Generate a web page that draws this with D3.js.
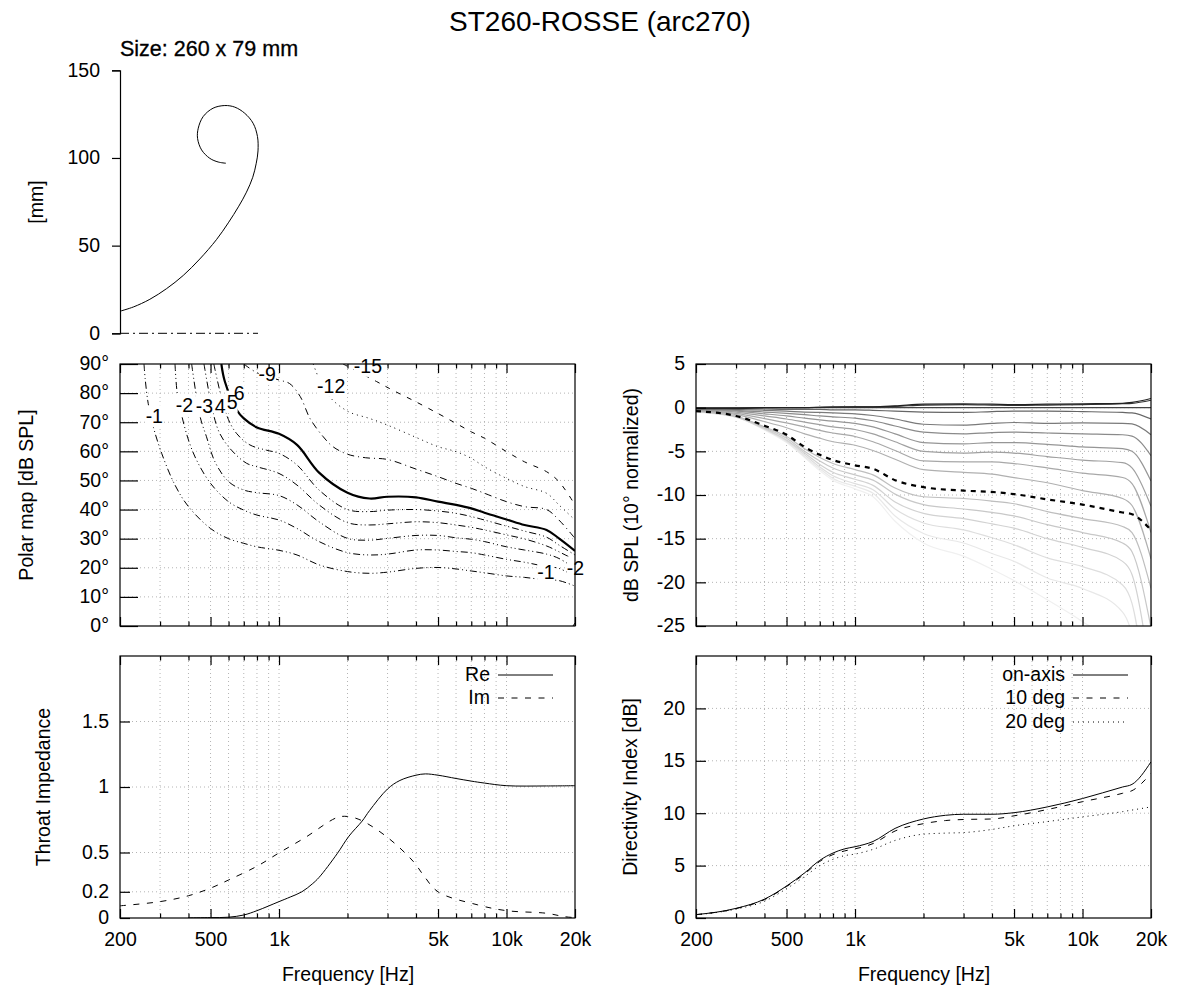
<!DOCTYPE html>
<html><head><meta charset="utf-8">
<script src="https://cdnjs.cloudflare.com/ajax/libs/d3/7.8.5/d3.min.js"></script>
<style>
html,body{margin:0;padding:0;background:#fff}
text{font-family:"Liberation Sans",Arial,sans-serif;fill:#000}
</style></head><body><svg id="c" width="1200" height="1000"></svg>
<script>
// ---- data ----
const profileX=[0,7.6,17.1,26.7,36.2,45.7,55.2,62,68,72.4,76,78,79,78.7,76.2,71.4,65.7,60,53.3,47.6,44.8,44.4,46.7,51.4,56.2,60.6];
const profileY=[12.6,15,19.4,25.5,33,42.4,53.4,63,72.5,80.5,89,97,104,112.2,119.8,125.5,129,129.9,128.4,123.6,117,111.2,104.6,99.8,97.7,97];
const majorFreqs=[200,500,1000,5000,10000,20000];
const minorFreqs=[300,400,600,700,800,900,2000,3000,4000,6000,7000,8000,9000];
const freqLabels={200:"200",500:"500",1000:"1k",5000:"5k",10000:"10k",20000:"20k"};

const contourM1=[[255,90],[258,85],[266,76.5],[280,68.5],[305,59.3],[349,48.4],[400,41],[500,33.5],[600,30],[700,28.4],[800,27.2],[1000,26],[1200,24.4],[1500,21],[2000,18.7],[2500,18.1],[3000,18.5],[4000,19.8],[5000,20.1],[6000,19.6],[7000,18.9],[8000,18.3],[10000,17.2],[12000,16.7],[15000,15.8],[17000,15.6],[20000,13.7]];
const contourM2=[[349,90],[357,79.9],[373,72.5],[400,63.9],[434,57],[500,49],[600,42.7],[700,39.8],[800,38.1],[1000,36.4],[1200,33.5],[1500,29],[2000,25.2],[2500,24.4],[3000,24.7],[4000,26.1],[5000,26.1],[6000,25.6],[7000,25.2],[8000,24.4],[10000,22.9],[12000,21.9],[15000,20.4],[17000,19.8],[20000,16.9]];
const contourM3=[[413,90],[450,71.9],[480,65],[523,56.4],[600,49.6],[700,46.7],[800,45.8],[1000,44.8],[1200,41.6],[1500,35.8],[2000,30.1],[2500,29.5],[3000,30.1],[4000,31.1],[5000,31.1],[6000,30.3],[7000,29.8],[8000,29],[10000,27.2],[12000,26.1],[15000,24.7],[17000,23.2],[20000,19.8]];
const contourM4=[[468,90],[514,73],[550,66],[618,60.4],[720,55.9],[800,54.7],[1000,52.4],[1200,48.4],[1500,41.6],[2000,35.5],[2500,34.7],[3000,35.1],[4000,35.8],[5000,35.5],[6000,34.7],[7000,33.9],[8000,33],[10000,31.3],[12000,29.9],[15000,27.5],[17000,25.5],[20000,22.7]];
const contourM5=[[517,90],[588,72.5],[650,66.2],[745,62.2],[880,60.4],[1000,59.3],[1200,55.3],[1500,46.7],[2000,40],[2500,39.3],[3000,39.8],[4000,40],[5000,39.5],[6000,38.7],[7000,37.6],[8000,36.4],[10000,34.3],[12000,32.6],[15000,30.5],[17000,27.8],[20000,24.4]];
const contourM6=[[558,90],[578,84],[652,74.2],[700,71.3],[800,68.2],[1000,66],[1200,62.2],[1500,52.7],[2000,45.8],[2500,43.8],[3000,44.4],[4000,44.2],[5000,42.7],[6000,41.6],[7000,40.4],[8000,38.9],[10000,36.6],[12000,34.7],[15000,33],[17000,30.1],[20000,25.8]];
const contourM9=[[700,90],[800,87],[1000,84.5],[1112,83.3],[1240,78.8],[1368,71.3],[1565,65],[1726,61.6],[2000,59],[2400,57.8],[3000,57.2],[4000,53.9],[5000,51.3],[6000,49],[7000,47.3],[8000,45.6],[10000,42.7],[12000,41],[15000,40],[17000,36.4],[20000,30.1]];
const contourM12=[[1414,90],[1621,79.9],[2000,73.8],[2500,71.3],[3000,69],[4000,64.8],[5000,61.6],[6000,59.9],[7000,57.6],[8000,54.7],[10000,50.7],[12000,47.9],[15000,45.6],[17000,41.6],[20000,36.4]];
const contourM15=[[1912,90],[2680,84],[3160,81],[4000,77],[5000,73],[6000,69.6],[7000,66.7],[8000,64.5],[10000,59.9],[12000,56.4],[15000,53],[17000,49.6],[20000,41.6]];
const contourCorner=[[19600,0],[20000,1]];
const contourLabels=["-1","-2","-3","4","5","6","-9","-12","-15","-1","-2"];
const contourLabelFreq=[283,384,470,551,622,668,888,1695,2460,14900,20100];
const contourLabelDeg=[72,76,75.5,75.5,77,80,86.6,82.5,89.3,18.5,20];

const splFreqs=[200,300,400,500,600,700,800,1000,1200,1500,2000,3000,4000,5000,7000,10000,15000,16500,20000];
const spl0 =[-0.1,-0.1,0,0,0,0.05,0.1,0.1,0.1,0.2,0.4,0.45,0.4,0.35,0.4,0.45,0.5,0.6,1.05];
const spl5 =[-0.1,-0.05,0,0,0,0.03,0.05,0.1,0.1,0.15,0.3,0.35,0.3,0.25,0.3,0.35,0.45,0.5,0.85];
const spl10=[0,0,0,0,0,0,0,0,0,0,0,0,0,0,0,0,0,0,0];
const spl15=[-0.05,-0.1,-0.15,-0.2,-0.2,-0.2,-0.25,-0.25,-0.3,-0.4,-0.5,-0.55,-0.45,-0.4,-0.4,-0.45,-0.55,-0.6,-1.3];
const spl20=[-0.1,-0.2,-0.3,-0.4,-0.5,-0.55,-0.6,-0.7,-0.9,-1.3,-1.9,-2,-1.8,-1.7,-1.8,-1.75,-1.8,-1.85,-3.1];
const spl25=[-0.15,-0.3,-0.5,-0.65,-0.8,-0.95,-1.05,-1.2,-1.5,-2.1,-2.8,-3,-2.85,-2.8,-2.9,-3,-3.1,-3.25,-5.5];
const spl30=[-0.2,-0.4,-0.7,-0.95,-1.2,-1.4,-1.55,-1.8,-2.2,-3,-4,-4.15,-4,-4,-4.2,-4.5,-4.7,-5,-8.4];
const spl35=[-0.25,-0.5,-0.95,-1.3,-1.65,-1.95,-2.2,-2.5,-3,-3.9,-5,-5.2,-5.1,-5.2,-5.6,-6,-6.3,-6.9,-11.3];
const spl40=[-0.3,-0.65,-1.25,-1.75,-2.2,-2.6,-2.9,-3.3,-3.9,-4.9,-6.1,-6.2,-6.2,-6.4,-6.9,-7.5,-8,-8.7,-14.3];
const spl45=[-0.35,-0.8,-1.6,-2.3,-3,-3.5,-3.9,-4.3,-4.9,-5.9,-7.1,-7.4,-7.6,-8,-8.6,-9.5,-10.4,-11.2,-17.3];
const spl50=[-0.4,-0.95,-2.06,-3.1,-4.5,-5.4,-6,-6.6,-7,-8.3,-9.1,-9.5,-9.65,-9.9,-10.5,-11.1,-12,-12.2,-14];
const spl55=[-0.4,-1,-2.2,-3.3,-4.7,-5.7,-6.4,-7.1,-7.7,-9.2,-10.2,-10.4,-10.7,-11,-11.9,-12.7,-13.6,-14.3,-20.7];
const spl60=[-0.4,-1,-2.3,-3.5,-5,-6.1,-6.9,-7.7,-8.3,-9.9,-11.1,-11.6,-12,-12.4,-13.4,-14.3,-15.5,-16.5,-25.2];
const spl65=[-0.45,-1.05,-2.4,-3.7,-5.2,-6.5,-7.4,-8.2,-8.9,-10.8,-12.1,-12.7,-13.3,-13.8,-15,-16,-17.6,-19.1,-31];
const spl70=[-0.45,-1.05,-2.45,-3.8,-5.4,-6.8,-7.8,-8.7,-9.4,-11.6,-13.2,-14,-14.9,-15.7,-17.2,-18.2,-20.3,-22.4,-37];
const spl75=[-0.45,-1.1,-2.5,-3.9,-5.6,-7,-8.1,-9,-9.8,-12.4,-14.4,-15.5,-16.7,-17.6,-19.5,-20.7,-23.4,-26,-42];
const spl80=[-0.5,-1.1,-2.55,-4,-5.7,-7.2,-8.3,-9.3,-10.2,-13,-15.5,-17,-18.5,-19.8,-22,-24.5,-28,-31,-45];

const reFreqs=[400,500,600,700,800,1000,1120,1260,1400,1500,1800,2030,2320,2500,3000,3400,4000,4400,5000,6000,7000,8000,10000,15000,20000];
const zRe=[0.001,0.003,0.006,0.023,0.056,0.125,0.16,0.2,0.26,0.31,0.49,0.625,0.74,0.82,0.985,1.05,1.09,1.1,1.09,1.065,1.045,1.03,1.01,1.008,1.01];
const imFreqs=[200,300,400,500,600,800,1000,1300,1800,2000,2300,3000,3900,4300,5000,7480,10000,15000,18000,20000];
const zIm=[0.093,0.125,0.17,0.228,0.29,0.395,0.497,0.613,0.767,0.775,0.745,0.615,0.43,0.33,0.2,0.1,0.056,0.036,0.01,0.003];

const diFreqs=[200,300,400,500,600,700,800,900,1000,1200,1500,2000,2500,3000,4000,5000,7000,10000,15000,16500,20000];
const diOn=[0.32,0.92,1.8,3.05,4.3,5.5,6.2,6.6,6.8,7.3,8.55,9.45,9.8,9.9,9.9,10.05,10.6,11.4,12.5,12.75,14.9];
const di10=[0.32,0.9,1.75,3,4.2,5.4,6.05,6.4,6.6,7.1,8.3,9,9.3,9.4,9.45,9.75,10.35,11.1,11.9,12.15,13.8];
const di20=[0.3,0.85,1.6,2.8,3.95,5,5.6,5.95,6.1,6.55,7.4,8,8.1,8.15,8.45,8.8,9.2,9.65,10.15,10.3,10.6];

const mmTicks=[0,50,100,150];
const deg=[0,10,20,30,40,50,60,70,80,90];
const splTicks=[5,0,-5,-10,-15,-20,-25];
const zTicks=[0,0.2,0.5,1,1.5];
const diTicks=[0,5,10,15,20];

// ---- layout ----
const svg=d3.select("#c");
const TF=19.5, LF=19.5;
const DASH="6,7.5", DOT="1,4";
const X1=[120,575],X2=[696,1151],Y2=[626,364],Y3=[918,656];
const fx=r=>d3.scaleLog().domain([200,20000]).range(r);
const allF=majorFreqs.concat(minorFreqs);
let clipN=0;
function panel(xr,yr,yDom,ticks,fmt,opt){
  const x=fx(xr), y=d3.scaleLinear().domain(yDom).range(yr);
  const g=svg.append("g");
  const id="clip"+(clipN++);
  svg.append("clipPath").attr("id",id).append("rect").attr("x",xr[0]).attr("y",yr[1]).attr("width",xr[1]-xr[0]).attr("height",yr[0]-yr[1]);
  g.selectAll(".gx").data(allF.filter(f=>f>200&&f<20000)).join("line").attr("x1",d=>x(d)).attr("x2",d=>x(d)).attr("y1",yr[0]).attr("y2",yr[1])
    .attr("stroke","#b4b4b4").attr("stroke-dasharray","1,3");
  g.selectAll(".gy").data(ticks.filter(t=>t!==yDom[0]&&t!==yDom[1])).join("line").attr("y1",d=>y(d)).attr("y2",d=>y(d)).attr("x1",xr[0]).attr("x2",xr[1])
    .attr("stroke","#b4b4b4").attr("stroke-dasharray","1,3");
  const marks=g.append("g").attr("clip-path","url(#"+id+")");
  const over=svg.append("g");
  const gAx=svg.append("g");
  const ax=(gen,tx,ty)=>{const a=gAx.append("g").attr("transform",`translate(${tx},${ty})`).call(gen);
     a.selectAll("text").attr("font-size",TF).attr("font-family","Liberation Sans").attr("fill","#000");
     a.selectAll("line").attr("stroke","#000").attr("stroke-width",1.2);a.select(".domain").attr("stroke","none");return a;};
  ax(d3.axisLeft(y).tickValues(ticks).tickFormat(fmt).tickSize(-opt.yTick).tickPadding(11),xr[0],0).selectAll("text").attr("dy","0.3em");
  const lab=opt.labels?(d=>freqLabels[d]):(()=>"");
  ax(d3.axisBottom(x).tickValues(majorFreqs).tickFormat(lab).tickSize(-9).tickPadding(14),0,yr[0]);
  ax(d3.axisBottom(x).tickValues(minorFreqs).tickFormat(()=>"").tickSize(-4.5),0,yr[0]);
  ax(d3.axisTop(x).tickValues(majorFreqs).tickFormat(()=>"").tickSize(-9),0,yr[1]);
  ax(d3.axisTop(x).tickValues(minorFreqs).tickFormat(()=>"").tickSize(-4.5),0,yr[1]);
  gAx.append("rect").attr("x",xr[0]).attr("y",yr[1]).attr("width",xr[1]-xr[0]).attr("height",yr[0]-yr[1]).attr("fill","none").attr("stroke","#000").attr("stroke-width",1.2);
  return {x,y,marks,over};
}
const SMOOTH=d3.curveCatmullRom.alpha(0.5);
const lineOf=(x,y,curve)=>d3.line().x(d=>x(d[0])).y(d=>y(d[1])).curve(curve||SMOOTH);
const zip=(a,b)=>a.map((v,i)=>[v,b[i]]);
function ylabel(t,x,y){svg.append("text").attr("transform",`translate(${x},${y}) rotate(-90)`).attr("text-anchor","middle").attr("font-size",LF).text(t);}
function xlabel(t,x,y){svg.append("text").attr("x",x).attr("y",y).attr("text-anchor","middle").attr("font-size",LF).text(t);}
function legend(g,xText,xa,xb,yy,t,dash,w){
  g.append("text").attr("x",xText).attr("y",yy+6).attr("text-anchor","end").attr("font-size",LF).text(t);
  g.append("line").attr("x1",xa).attr("x2",xb).attr("y1",yy).attr("y2",yy).attr("stroke","#000").attr("stroke-width",w||1).attr("stroke-dasharray",dash);
}

svg.append("text").attr("x",600).attr("y",31).attr("text-anchor","middle").attr("font-size",28).text("ST260-ROSSE (arc270)");
svg.append("text").attr("x",120).attr("y",56).attr("font-size",21.5).attr("stroke","#000").attr("stroke-width",0.3).text("Size: 260 x 79 mm");

// profile
{
  const y=d3.scaleLinear().domain([0,150]).range([333.3,70.3]);
  const x=d3.scaleLinear().domain([0,79]).range([120,258]);
  const g=svg.append("g");
  g.append("path").attr("d",lineOf(x,y)(zip(profileX,profileY))).attr("fill","none").attr("stroke","#000").attr("stroke-width",1);
  g.append("line").attr("x1",x(0)).attr("x2",x(79)).attr("y1",y(0)).attr("y2",y(0)).attr("stroke","#000").attr("stroke-dasharray","9,4,2,4");
  const a=g.append("g").attr("transform","translate(120,0)").call(d3.axisLeft(y).tickValues(mmTicks).tickSize(8).tickPadding(12));
  a.selectAll("text").attr("font-size",TF).attr("font-family","Liberation Sans").attr("fill","#000").attr("dy","0.3em");
  a.selectAll("line").attr("stroke","#000").attr("stroke-width",1.2);
  a.select(".domain").attr("stroke","#000").attr("stroke-width",1.2);
  ylabel("[mm]",43,202);
}

// polar map
{
  const p=panel(X1,Y2,[0,90],deg,d=>d+"°",{yTick:18});
  const L=lineOf(p.x,p.y);
  const styles=[
    [contourM1,"7,3,1,3,1,3",1],[contourM2,"7,3,1,3,1,3",1],[contourM3,"7,3,1,3,1,3",1],
    [contourM4,"7,3,1,3,1,3",1],[contourM5,"7,3,1,3,1,3",1],[contourM6,null,2.2],
    [contourM9,"7,4,1,4",1],[contourM12,"1,4",1],[contourM15,"5,7",1],[contourCorner,null,1]];
  styles.forEach(s=>p.marks.append("path").attr("d",L(s[0])).attr("fill","none").attr("stroke","#000").attr("stroke-width",s[2]).attr("stroke-dasharray",s[1]));
  const bg=p.over.append("g"), fg=p.over.append("g");
  contourLabels.forEach((t,i)=>{
    const tx=fg.append("text").attr("x",p.x(contourLabelFreq[i])).attr("y",p.y(contourLabelDeg[i])).attr("dy",".35em").attr("text-anchor","middle").attr("font-size",LF).text(t);
    const b=tx.node().getBBox();
    bg.append("rect").attr("x",b.x).attr("y",b.y).attr("width",b.width).attr("height",b.height).attr("fill","#fff");
  });
  ylabel("Polar map [dB SPL]",33,495);
}

// normalized SPL
{
  const p=panel(X2,Y2,[-25,5],splTicks,d=>d,{yTick:10});
  const L=lineOf(p.x,p.y,d3.curveMonotoneX);
  const series=[[80,spl80,"#f0f0f0"],[75,spl75,"#e8e8e8"],[70,spl70,"#dedede"],[65,spl65,"#d2d2d2"],[60,spl60,"#c8c8c8"],[55,spl55,"#bebebe"],
    [45,spl45,"#b0b0b0"],[40,spl40,"#a8a8a8"],[35,spl35,"#a0a0a0"],[30,spl30,"#969696"],[25,spl25,"#8a8a8a"],[20,spl20,"#7a7a7a"],[15,spl15,"#666"],
    [10,spl10,"#444"],[5,spl5,"#333"],[0,spl0,"#222"]];
  series.forEach(s=>p.marks.append("path").attr("d",L(zip(splFreqs,s[1]))).attr("fill","none").attr("stroke",s[2]).attr("stroke-width",1.2));
  p.marks.append("path").attr("d",L(zip(splFreqs,spl50))).attr("fill","none").attr("stroke","#000").attr("stroke-width",2.2).attr("stroke-dasharray","5,5");
  ylabel("dB SPL (10° normalized)",638,495);
}

// throat impedance
{
  const p=panel(X1,Y3,[0,2],zTicks,d=>d,{yTick:10,labels:true});
  const L=lineOf(p.x,p.y);
  p.marks.append("path").attr("d",L(zip(reFreqs,zRe))).attr("fill","none").attr("stroke","#000");
  p.marks.append("path").attr("d",L(zip(imFreqs,zIm))).attr("fill","none").attr("stroke","#000").attr("stroke-dasharray",DASH);
  legend(p.over,490,498,553,675,"Re",null);
  legend(p.over,490,498,553,698,"Im",DASH);
  ylabel("Throat Impedance",50,787);
  xlabel("Frequency [Hz]",348,981);
}

// directivity index
{
  const p=panel(X2,Y3,[0,25],diTicks,d=>d,{yTick:10,labels:true});
  const L=lineOf(p.x,p.y,d3.curveMonotoneX);
  p.marks.append("path").attr("d",L(zip(diFreqs,diOn))).attr("fill","none").attr("stroke","#000");
  p.marks.append("path").attr("d",L(zip(diFreqs,di10))).attr("fill","none").attr("stroke","#000").attr("stroke-dasharray",DASH);
  p.marks.append("path").attr("d",L(zip(diFreqs,di20))).attr("fill","none").attr("stroke","#000").attr("stroke-dasharray",DOT);
  legend(p.over,1065,1073,1128,675,"on-axis",null);
  legend(p.over,1065,1073,1128,698,"10 deg",DASH);
  legend(p.over,1065,1073,1128,722,"20 deg",DOT);
  ylabel("Directivity Index [dB]",637,787);
  xlabel("Frequency [Hz]",924,981);
}
</script></body></html>
